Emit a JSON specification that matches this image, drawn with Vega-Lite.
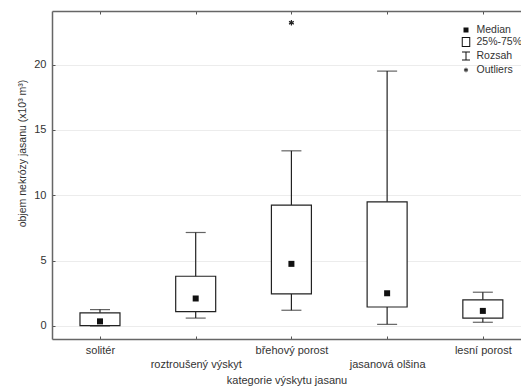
{
  "$schema": "https://vega.github.io/schema/vega-lite/v6.json",
  "width": 469,
  "height": 328,
  "autosize": "none",
  "padding": {"left": 52, "top": 11, "right": 0, "bottom": 48},
  "background": "white",
  "config": {
    "view": {"stroke": null},
    "font": "Liberation Sans",
    "axis": {
      "labelFont": "Liberation Sans",
      "titleFont": "Liberation Sans",
      "labelFontSize": 11,
      "titleFontSize": 11,
      "labelColor": "#333",
      "titleColor": "#333",
      "titleFontWeight": "normal",
      "domainColor": "#666",
      "domainWidth": 1.5,
      "tickColor": "#555",
      "tickSize": -3,
      "gridColor": "#ececec"
    },
    "legend": {
      "labelFont": "Liberation Sans",
      "labelFontSize": 10.5,
      "labelColor": "#333"
    }
  },
  "datasets": {
    "boxes": [
      {"kategorie": "solitér", "min": 0.0, "q1": 0.02, "median": 0.35, "q3": 1.0, "max": 1.25},
      {"kategorie": "roztroušený výskyt", "min": 0.6, "q1": 1.1, "median": 2.1, "q3": 3.8, "max": 7.15},
      {"kategorie": "břehový porost", "min": 1.2, "q1": 2.45, "median": 4.75, "q3": 9.25, "max": 13.4},
      {"kategorie": "jasanová olšina", "min": 0.12, "q1": 1.45, "median": 2.5, "q3": 9.5, "max": 19.5},
      {"kategorie": "lesní porost", "min": 0.28, "q1": 0.6, "median": 1.15, "q3": 2.0, "max": 2.58}
    ],
    "outliers": [
      {"kategorie": "břehový porost", "hodnota": 23.2}
    ],
    "legenda": [
      {"polozka": "Median"},
      {"polozka": "25%-75%"},
      {"polozka": "Rozsah"},
      {"polozka": "Outliers"}
    ]
  },
  "resolve": {"axis": {"x": "independent"}},
  "layer": [
    {
      "data": {"name": "boxes"},
      "mark": {"type": "rule", "color": "#222", "strokeWidth": 1.2},
      "encoding": {
        "x": {
          "field": "kategorie",
          "type": "nominal",
          "sort": null,
          "scale": {"type": "point", "padding": 0.45, "align": 0.557},
          "axis": {
            "orient": "bottom",
            "title": "kategorie výskytu jasanu",
            "labelAngle": 0,
            "labelBaseline": "top",
            "labelPadding": 8,
            "labelLineHeight": 14,
            "labelExpr": "indexof(['roztroušený výskyt', 'jasanová olšina'], datum.value) >= 0 ? ['', datum.label] : datum.label",
            "titlePadding": 5,
            "grid": false
          }
        },
        "y": {
          "field": "min",
          "type": "quantitative",
          "title": "objem nekrózy jasanu (x10³ m³)",
          "scale": {"domain": [-1, 24.1], "nice": false, "zero": false},
          "axis": {
            "values": [0, 5, 10, 15, 20],
            "grid": true,
            "labelPadding": 9,
            "titleFontSize": 10.5,
            "titleX": -30,
            "titleY": 142,
            "titleBaseline": "middle",
            "titleAlign": "center"
          }
        },
        "y2": {"field": "max"}
      }
    },
    {
      "data": {"name": "boxes"},
      "mark": {"type": "tick", "color": "#222", "size": 20, "thickness": 1.2},
      "encoding": {
        "x": {"field": "kategorie", "type": "nominal", "sort": null, "axis": null},
        "y": {"field": "min", "type": "quantitative", "title": "objem nekrózy jasanu (x10³ m³)"}
      }
    },
    {
      "data": {"name": "boxes"},
      "mark": {"type": "tick", "color": "#222", "size": 20, "thickness": 1.2},
      "encoding": {
        "x": {"field": "kategorie", "type": "nominal", "sort": null, "axis": null},
        "y": {"field": "max", "type": "quantitative", "title": "objem nekrózy jasanu (x10³ m³)"}
      }
    },
    {
      "data": {"name": "boxes"},
      "mark": {"type": "bar", "width": 40, "fill": "white", "stroke": "#222", "strokeWidth": 1.2},
      "encoding": {
        "x": {"field": "kategorie", "type": "nominal", "sort": null, "axis": null},
        "y": {"field": "q1", "type": "quantitative", "title": "objem nekrózy jasanu (x10³ m³)"},
        "y2": {"field": "q3"}
      }
    },
    {
      "data": {"name": "boxes"},
      "mark": {"type": "point", "shape": "square", "filled": true, "color": "#111", "size": 36, "opacity": 1},
      "encoding": {
        "x": {
          "field": "kategorie",
          "type": "nominal",
          "sort": null,
          "axis": {"orient": "top", "labels": false, "title": null, "domain": true, "grid": false}
        },
        "y": {"field": "median", "type": "quantitative", "title": "objem nekrózy jasanu (x10³ m³)"}
      }
    },
    {
      "data": {"name": "outliers"},
      "mark": {
        "type": "point",
        "shape": "M0,-1V1M-0.87,-0.5L0.87,0.5M-0.87,0.5L0.87,-0.5",
        "filled": false,
        "color": "#222",
        "strokeWidth": 1.2,
        "size": 30,
        "opacity": 1
      },
      "encoding": {
        "x": {"field": "kategorie", "type": "nominal", "sort": null, "axis": null},
        "y": {"field": "hodnota", "type": "quantitative", "title": "objem nekrózy jasanu (x10³ m³)"}
      }
    },
    {
      "data": {"name": "legenda"},
      "mark": {"type": "point", "filled": true, "color": "#111", "opacity": 0},
      "encoding": {
        "shape": {
          "field": "polozka",
          "type": "nominal",
          "sort": null,
          "scale": {
            "domain": ["Median", "25%-75%", "Rozsah", "Outliers"],
            "range": [
              "M-0.5,-0.5H0.5V0.5H-0.5Z",
              "M-0.85,-1H0.85V1H-0.85ZM-0.65,-0.8V0.8H0.65V-0.8Z",
              "M-0.8,-0.9H0.8V-0.7H-0.8ZM-0.1,-0.8H0.1V0.8H-0.1ZM-0.8,0.7H0.8V0.9H-0.8Z",
              "M-0.1,-0.45H0.1V0.45H-0.1ZM0.34,0.312L0.44,0.138L-0.34,-0.312L-0.44,-0.138ZM0.44,-0.138L0.34,-0.312L-0.44,0.138L-0.34,0.312Z"
            ]
          },
          "legend": {
            "orient": "none",
            "legendX": 408,
            "legendY": 13,
            "title": null,
            "symbolSize": 100,
            "symbolOpacity": 1,
            "rowPadding": -2.6,
            "labelOffset": 4.5,
            "encode": {
              "symbols": {
                "update": {
                  "opacity": {"value": 1},
                  "fill": {"value": "#111"},
                  "fillOpacity": {"value": 1}
                }
              }
            }
          }
        }
      }
    }
  ]
}
